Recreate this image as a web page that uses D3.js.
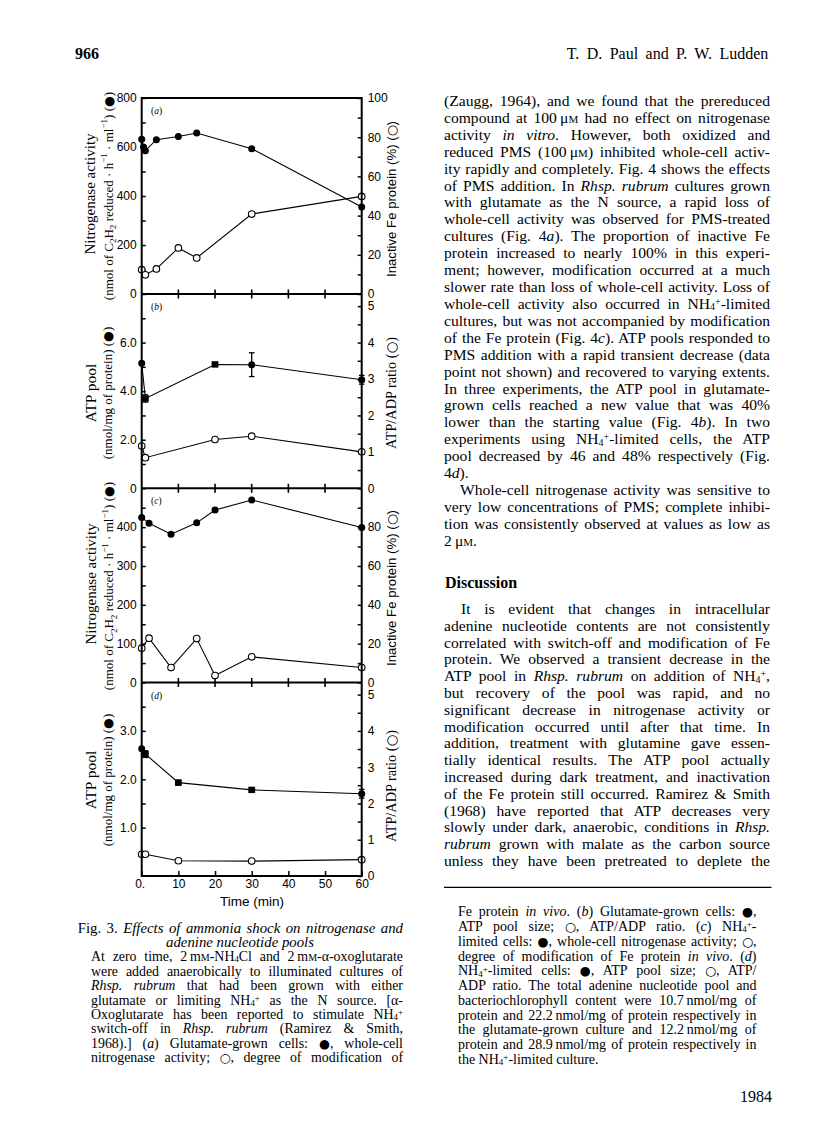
<!DOCTYPE html>
<html lang="en">
<head>
<meta charset="UTF-8">
<title>Fig. 3 - ammonia shock</title>
<style>
  body { margin: 0; background: #fff; }
  #page { position: relative; width: 816px; height: 1139px; overflow: hidden; background: #fff; }
  svg { position: absolute; left: 0; top: 0; }
  .ln { position: absolute; white-space: nowrap; line-height: 1; font-family: "Liberation Serif", "Times New Roman", serif; color: #000; }
  .ln .sb { font-size: 0.64em; position: relative; top: 0.14em; }
  .ln .sp { font-size: 0.64em; position: relative; top: -0.4em; }
  .ln .sc { font-variant: small-caps; }
  .ln .dot { font-family: "DejaVu Sans", sans-serif; font-size: 0.9em; }
  .tick text { font-family: "Liberation Sans", Arial, sans-serif; font-size: 12px; fill: #000; }
  .tick line { stroke: #000; stroke-width: 1.5; }
</style>
<script src="https://d3js.org/d3.v7.min.js"></script>
</head>
<body>
<div id="page"></div>
<script>
// ---- data ----
const timeTicks = [0, 10, 20, 30, 40, 50, 60];

// (a) glutamate-grown: whole-cell nitrogenase activity (filled), inactive Fe protein % (open)
const timeA = [0, 0.5, 1, 4, 10, 15, 30, 60];
const activityA = [632, 600, 585, 630, 643, 657, 593, 355];
const timeAOpen = [0, 1, 4, 10, 15, 30, 60];
const inactiveA = [12.4, 9.8, 12.8, 23.5, 18.4, 40.8, 49.8];

// (b) glutamate-grown: ATP pool (filled), ATP/ADP ratio (open)
const timeB = [0, 1, 20, 30, 60];
const atpB = [5.15, 3.7, 5.1, 5.09, 4.47];
const atpErrB = [0, 0.15, 0.08, 0.49, 0.18];
const atpKindB = ["circle", "square", "square", "circle", "circle"];
const ratioB = [1.16, 0.84, 1.34, 1.43, 1.0];

// (c) NH4+-limited: nitrogenase activity (filled), inactive Fe protein % (open)
const timeC = [0, 2, 8, 15, 20, 30, 60];
const activityC = [425, 410, 382, 411, 444, 470, 399];
const inactiveC = [17.7, 22.8, 7.7, 22.6, 3.6, 13.2, 7.7];

// (d) NH4+-limited: ATP pool (filled), ATP/ADP ratio (open)
const timeD = [0, 1, 10, 30, 60];
const atpD = [2.63, 2.52, 1.93, 1.78, 1.70];
const atpErrD = [0, 0.07, 0.05, 0.04, 0.09];
const atpKindD = ["circle", "square", "square", "square", "circle"];
const ratioD = [0.6, 0.6, 0.42, 0.41, 0.45];

// ---- layout ----
const page = d3.select("#page");
const svg = page.append("svg").attr("width", 816).attr("height", 1139);
const ink = "#000";
const X0 = 141.7, X1 = 361.7;
const x = d3.scaleLinear().domain([0, 60]).range([X0, X1]);

const panels = [
  { id: "a", top: 98, bottom: 294, yL: [0, 800], yR: [0, 100],
    lMajor: [0, 200, 400, 600, 800], lMinor: [100, 300, 500, 700], lFmt: d => d,
    rMajor: [0, 20, 40, 60, 80, 100], rMinor: [10, 30, 50, 70, 90],
    filled: { t: timeA, v: activityA }, open: { t: timeAOpen, v: inactiveA },
    title: "act", tL: [94.5, 112.5, 196], tR: [396, 199], rTitle: "fe" },
  { id: "b", top: 294, bottom: 488.3, yL: [0, 8], yR: [0, 16 / 3],
    lMajor: [0, 2, 4, 6], lMinor: [1, 3, 5, 7], lFmt: d => d === 0 ? "0" : d.toFixed(1),
    rMajor: [0, 1, 2, 3, 4, 5], rMinor: [0.5, 1.5, 2.5, 3.5, 4.5],
    filled: { t: timeB, v: atpB, err: atpErrB, kind: atpKindB }, open: { t: timeB, v: ratioB },
    title: "atp", tL: [95.5, 111.5, 393], tR: [396, 393], rTitle: "ratio" },
  { id: "c", top: 488.3, bottom: 682.5, yL: [0, 500], yR: [0, 100],
    lMajor: [0, 100, 200, 300, 400], lMinor: [50, 150, 250, 350, 450], lFmt: d => d,
    rMajor: [0, 20, 40, 60, 80], rMinor: [10, 30, 50, 70, 90],
    filled: { t: timeC, v: activityC }, open: { t: timeC, v: inactiveC },
    title: "act", tL: [96, 113, 586], tR: [396, 588], rTitle: "fe" },
  { id: "d", top: 682.5, bottom: 876, yL: [0, 4], yR: [0, 16 / 3],
    lMajor: [1, 2, 3], lMinor: [0.5, 1.5, 2.5, 3.5], lFmt: d => d.toFixed(1),
    rMajor: [0, 1, 2, 3, 4, 5], rMinor: [0.5, 1.5, 2.5, 3.5, 4.5],
    filled: { t: timeD, v: atpD, err: atpErrD, kind: atpKindD }, open: { t: timeD, v: ratioD },
    title: "atp", tL: [95.5, 111.5, 780], tR: [396, 786], rTitle: "ratio" }
];

// rich svg text with sub/superscripts and big dot glyphs
function rich(sel, parts, fs) {
  let shift = 0;
  parts.forEach(([s, k]) => {
    const target = k === "sub" ? fs * 0.3 : k === "sup" ? -fs * 0.4 : 0;
    const t = sel.append("tspan").attr("dy", target - shift).text(s);
    if (k === "sub" || k === "sup") t.attr("font-size", fs * 0.7);
    if (k === "dot") t.attr("font-family", "'DejaVu Sans', sans-serif").attr("font-size", fs * 0.95);
    shift = target;
  });
}

function vTitle(xb, yc, parts, fs, family) {
  const t = svg.append("text")
    .attr("transform", `translate(${xb},${yc}) rotate(-90)`)
    .attr("text-anchor", "middle")
    .attr("font-family", family)
    .attr("font-size", fs)
    .attr("fill", ink);
  rich(t, parts, fs);
}

const serif = "'Liberation Serif', 'Times New Roman', serif";
const sans = "'Liberation Sans', Arial, sans-serif";

panels.forEach(p => {
  const yL = d3.scaleLinear().domain(p.yL).range([p.bottom, p.top]);
  const yR = d3.scaleLinear().domain(p.yR).range([p.bottom, p.top]);
  const g = svg.append("g");

  // left axis
  g.append("g").attr("transform", `translate(${X0},0)`)
    .call(d3.axisLeft(yL).tickValues(p.lMajor).tickSize(-4).tickPadding(5).tickFormat(p.lFmt))
    .call(s => s.select(".domain").remove());
  g.append("g").attr("transform", `translate(${X0},0)`)
    .call(d3.axisLeft(yL).tickValues(p.lMinor).tickSize(-4).tickFormat(""))
    .call(s => s.select(".domain").remove());
  // right axis
  g.append("g").attr("transform", `translate(${X1},0)`)
    .call(d3.axisRight(yR).tickValues(p.rMajor).tickSize(-4).tickPadding(6).tickFormat(d => d))
    .call(s => s.select(".domain").remove());
  g.append("g").attr("transform", `translate(${X1},0)`)
    .call(d3.axisRight(yR).tickValues(p.rMinor).tickSize(-4).tickFormat(""))
    .call(s => s.select(".domain").remove());

  // panel boundary line with crossing time ticks
  if (p.id !== "d") {
    g.append("line").attr("x1", X0).attr("x2", X1).attr("y1", p.bottom).attr("y2", p.bottom)
      .attr("stroke", ink).attr("stroke-width", 2);
    g.selectAll(".xt").data(timeTicks.slice(1, -1)).join("line")
      .attr("x1", d => x(d)).attr("x2", d => x(d))
      .attr("y1", p.bottom - 4.5).attr("y2", p.bottom + 4.5)
      .attr("stroke", ink).attr("stroke-width", 1.6);
  }

  // panel letter
  const lab = g.append("text").attr("x", 151).attr("y", p.top + 16)
    .attr("font-family", serif).attr("font-size", 9.5).attr("fill", ink);
  lab.append("tspan").text("(");
  lab.append("tspan").attr("font-style", "italic").text(p.id);
  lab.append("tspan").text(")");

  // lines
  const lineL = d3.line().x(d => x(d[0])).y(d => yL(d[1]));
  const lineR = d3.line().x(d => x(d[0])).y(d => yR(d[1]));
  const fPts = p.filled.t.map((t, i) => [t, p.filled.v[i], i]);
  const oPts = p.open.t.map((t, i) => [t, p.open.v[i], i]);
  g.append("path").datum(fPts).attr("d", lineL).attr("fill", "none").attr("stroke", ink).attr("stroke-width", 1.1);
  g.append("path").datum(oPts).attr("d", lineR).attr("fill", "none").attr("stroke", ink).attr("stroke-width", 1.1);

  // error bars
  if (p.filled.err) {
    const eb = g.selectAll(".eb").data(fPts.filter(d => p.filled.err[d[2]] > 0)).join("g");
    eb.append("line").attr("x1", d => x(d[0])).attr("x2", d => x(d[0]))
      .attr("y1", d => yL(d[1] - p.filled.err[d[2]])).attr("y2", d => yL(d[1] + p.filled.err[d[2]]))
      .attr("stroke", ink).attr("stroke-width", 1.3);
    [-1, 1].forEach(s => {
      eb.append("line").attr("x1", d => x(d[0]) - 2.8).attr("x2", d => x(d[0]) + 2.8)
        .attr("y1", d => yL(d[1] + s * p.filled.err[d[2]])).attr("y2", d => yL(d[1] + s * p.filled.err[d[2]]))
        .attr("stroke", ink).attr("stroke-width", 1.3);
    });
  }

  // markers
  g.selectAll(".op").data(oPts).join("circle")
    .attr("cx", d => x(d[0])).attr("cy", d => yR(d[1])).attr("r", 3.3)
    .attr("fill", "#fff").attr("stroke", ink).attr("stroke-width", 1.1);
  fPts.forEach(d => {
    const kind = p.filled.kind ? p.filled.kind[d[2]] : "circle";
    if (kind === "square") {
      g.append("rect").attr("x", x(d[0]) - 3.4).attr("y", yL(d[1]) - 3.2)
        .attr("width", 6.8).attr("height", 6.4).attr("fill", ink);
    } else {
      g.append("circle").attr("cx", x(d[0])).attr("cy", yL(d[1])).attr("r", 3.5).attr("fill", ink);
    }
  });

  // axis titles
  if (p.title === "act") {
    vTitle(p.tL[0], p.tL[2] - 2, [["Nitrogenase activity", "n"]], 15, serif);
    vTitle(p.tL[1], p.tL[2], [["(nmol of C", "n"], ["2", "sub"], ["H", "n"], ["2", "sub"],
      [" reduced · h", "n"], ["−1", "sup"], [" · ml", "n"], ["−1", "sup"], [") (", "n"], ["●", "dot"], [")", "n"]], 13, serif);
  } else {
    vTitle(p.tL[0], p.tL[2], [["ATP pool", "n"]], 15.5, serif);
    vTitle(p.tL[1], p.tL[2], [["(nmol/mg of protein) (", "n"], ["●", "dot"], [")", "n"]], 13, serif);
  }
  if (p.rTitle === "fe") {
    vTitle(p.tR[0], p.tR[1], [["Inactive Fe protein (%) (", "n"], ["○", "dot"], [")", "n"]], 13.2, sans);
  } else {
    vTitle(p.tR[0], p.tR[1], [["ATP/ADP ratio (", "n"], ["○", "dot"], [")", "n"]], 14.3, serif);
  }
});

// outer frame
svg.append("rect").attr("x", X0).attr("y", 98).attr("width", X1 - X0).attr("height", 876 - 98)
  .attr("fill", "none").attr("stroke", ink).attr("stroke-width", 2);

// time axis
svg.append("g").attr("transform", "translate(0,876)")
  .call(d3.axisBottom(x).tickValues(timeTicks).tickSize(-5).tickPadding(3.5)
    .tickFormat(d => d === 0 ? "0." : d))
  .call(s => s.select(".domain").remove())
  .call(s => s.selectAll(".tick").filter(d => d === 0).select("text").attr("text-anchor", "end").attr("dx", 3));
svg.append("text").attr("x", 252).attr("y", 906).attr("text-anchor", "middle")
  .attr("font-family", sans).attr("font-size", 13.5).attr("fill", ink).text("Time (min)");

// rule above the caption continuation
svg.append("line").attr("x1", 444).attr("x2", 771.5).attr("y1", 887.3).attr("y2", 887.3)
  .attr("stroke", ink).attr("stroke-width", 1.3);

// ---- page text ----
const NH4 = 'NH<span class="sb">4</span><span class="sp">+</span>';
const uM = 'μ<span class="sc">m</span>';
const mM = 'm<span class="sc">m</span>';
const FD = '<span class="dot">●</span>';
const OD = '<span class="dot">○</span>';

function placeLine(x0, baseline, width, html, fs, opts = {}) {
  const div = page.append("div").attr("class", "ln")
    .style("font-size", fs + "px")
    .style("left", x0 + "px")
    .style("top", (baseline - 0.8375 * fs) + "px")
    .html(html);
  if (opts.bold) div.style("font-weight", "bold");
  const w = div.node().getBoundingClientRect().width;
  if (opts.center) div.style("left", (x0 - w / 2) + "px");
  if (opts.right) div.style("left", (x0 - w) + "px");
  if (opts.justify) {
    const n = (div.text().match(/ /g) || []).length;
    if (n) div.style("word-spacing", ((width - w) / n) + "px");
  }
  return div;
}

function block(x0, width, base0, step, lines, fs, indent) {
  lines.forEach((l, i) => {
    const ind = l.indent ? indent : 0;
    placeLine(x0 + ind, base0 + i * step, width - ind, l.h, fs, { justify: !l.last });
  });
}

// header and footer
placeLine(75, 59, 0, "966", 16, { bold: true });
placeLine(566.7, 59, 201.6, "T. D. Paul and P. W. Ludden", 16, { justify: true });
placeLine(772, 1102, 0, "1984", 16, { right: true });

// right column body text
const colText = [
  { h: "(Zaugg, 1964), and we found that the prereduced" },
  { h: `compound at 100&#8201;${uM} had no effect on nitrogenase` },
  { h: "activity <i>in vitro</i>. However, both oxidized and" },
  { h: `reduced PMS (100&#8201;${uM}) inhibited whole-cell activ-` },
  { h: "ity rapidly and completely. Fig. 4 shows the effects" },
  { h: "of PMS addition. In <i>Rhsp. rubrum</i> cultures grown" },
  { h: "with glutamate as the N source, a rapid loss of" },
  { h: "whole-cell activity was observed for PMS-treated" },
  { h: "cultures (Fig. 4<i>a</i>). The proportion of inactive Fe" },
  { h: "protein increased to nearly 100% in this experi-" },
  { h: "ment; however, modification occurred at a much" },
  { h: "slower rate than loss of whole-cell activity. Loss of" },
  { h: `whole-cell activity also occurred in ${NH4}-limited` },
  { h: "cultures, but was not accompanied by modification" },
  { h: "of the Fe protein (Fig. 4<i>c</i>). ATP pools responded to" },
  { h: "PMS addition with a rapid transient decrease (data" },
  { h: "point not shown) and recovered to varying extents." },
  { h: "In three experiments, the ATP pool in glutamate-" },
  { h: "grown cells reached a new value that was 40%" },
  { h: "lower than the starting value (Fig. 4<i>b</i>). In two" },
  { h: `experiments using ${NH4}-limited cells, the ATP` },
  { h: "pool decreased by 46 and 48% respectively (Fig." },
  { h: "4<i>d</i>).", last: true },
  { h: "Whole-cell nitrogenase activity was sensitive to", indent: true },
  { h: "very low concentrations of PMS; complete inhibi-" },
  { h: "tion was consistently observed at values as low as" },
  { h: `2&#8201;${uM}.`, last: true }
];
block(444, 326, 106, 16.92, colText, 15.6, 16);

placeLine(445, 588, 0, "Discussion", 16, { bold: true });

const discText = [
  { h: "It is evident that changes in intracellular", indent: true },
  { h: "adenine nucleotide contents are not consistently" },
  { h: "correlated with switch-off and modification of Fe" },
  { h: "protein. We observed a transient decrease in the" },
  { h: `ATP pool in <i>Rhsp. rubrum</i> on addition of ${NH4},` },
  { h: "but recovery of the pool was rapid, and no" },
  { h: "significant decrease in nitrogenase activity or" },
  { h: "modification occurred until after that time. In" },
  { h: "addition, treatment with glutamine gave essen-" },
  { h: "tially identical results. The ATP pool actually" },
  { h: "increased during dark treatment, and inactivation" },
  { h: "of the Fe protein still occurred. Ramirez &amp; Smith" },
  { h: "(1968) have reported that ATP decreases very" },
  { h: "slowly under dark, anaerobic, conditions in <i>Rhsp.</i>" },
  { h: "<i>rubrum</i> grown with malate as the carbon source" },
  { h: "unless they have been pretreated to deplete the" }
];
block(444, 326, 614, 16.8, discText, 15.6, 17);

// caption, right part
const capRight = [
  { h: `Fe protein <i>in vivo</i>. (<i>b</i>) Glutamate-grown cells: ${FD},` },
  { h: `ATP pool size; ${OD}, ATP/ADP ratio. (<i>c</i>) ${NH4}-` },
  { h: `limited cells: ${FD}, whole-cell nitrogenase activity; ${OD},` },
  { h: "degree of modification of Fe protein <i>in vivo</i>. (<i>d</i>)" },
  { h: `${NH4}-limited cells: ${FD}, ATP pool size; ${OD}, ATP/` },
  { h: "ADP ratio. The total adenine nucleotide pool and" },
  { h: "bacteriochlorophyll content were 10.7&#8201;nmol/mg of" },
  { h: "protein and 22.2&#8201;nmol/mg of protein respectively in" },
  { h: "the glutamate-grown culture and 12.2&#8201;nmol/mg of" },
  { h: "protein and 28.9&#8201;nmol/mg of protein respectively in" },
  { h: `the ${NH4}-limited culture.`, last: true }
];
block(458, 298.5, 917, 14.75, capRight, 14, 0);

// caption, left part
placeLine(77.7, 933, 325.3, "Fig. 3. <i>Effects of ammonia shock on nitrogenase and</i>", 14.8, { justify: true });
placeLine(240, 947.4, 0, "<i>adenine nucleotide pools</i>", 14.8, { center: true });
const capLeft = [
  { h: `At zero time, 2&#8201;${mM}-NH<span class="sb">4</span>Cl and 2&#8201;${mM}-α-oxoglutarate` },
  { h: "were added anaerobically to illuminated cultures of" },
  { h: "<i>Rhsp. rubrum</i> that had been grown with either" },
  { h: `glutamate or limiting ${NH4} as the N source. [α-` },
  { h: `Oxoglutarate has been reported to stimulate ${NH4}` },
  { h: "switch-off in <i>Rhsp. rubrum</i> (Ramirez &amp; Smith," },
  { h: `1968).] (<i>a</i>) Glutamate-grown cells: ${FD}, whole-cell` },
  { h: `nitrogenase activity; ${OD}, degree of modification of` }
];
block(91, 312, 961.8, 14.45, capLeft, 13.9, 0);
</script>
</body>
</html>
